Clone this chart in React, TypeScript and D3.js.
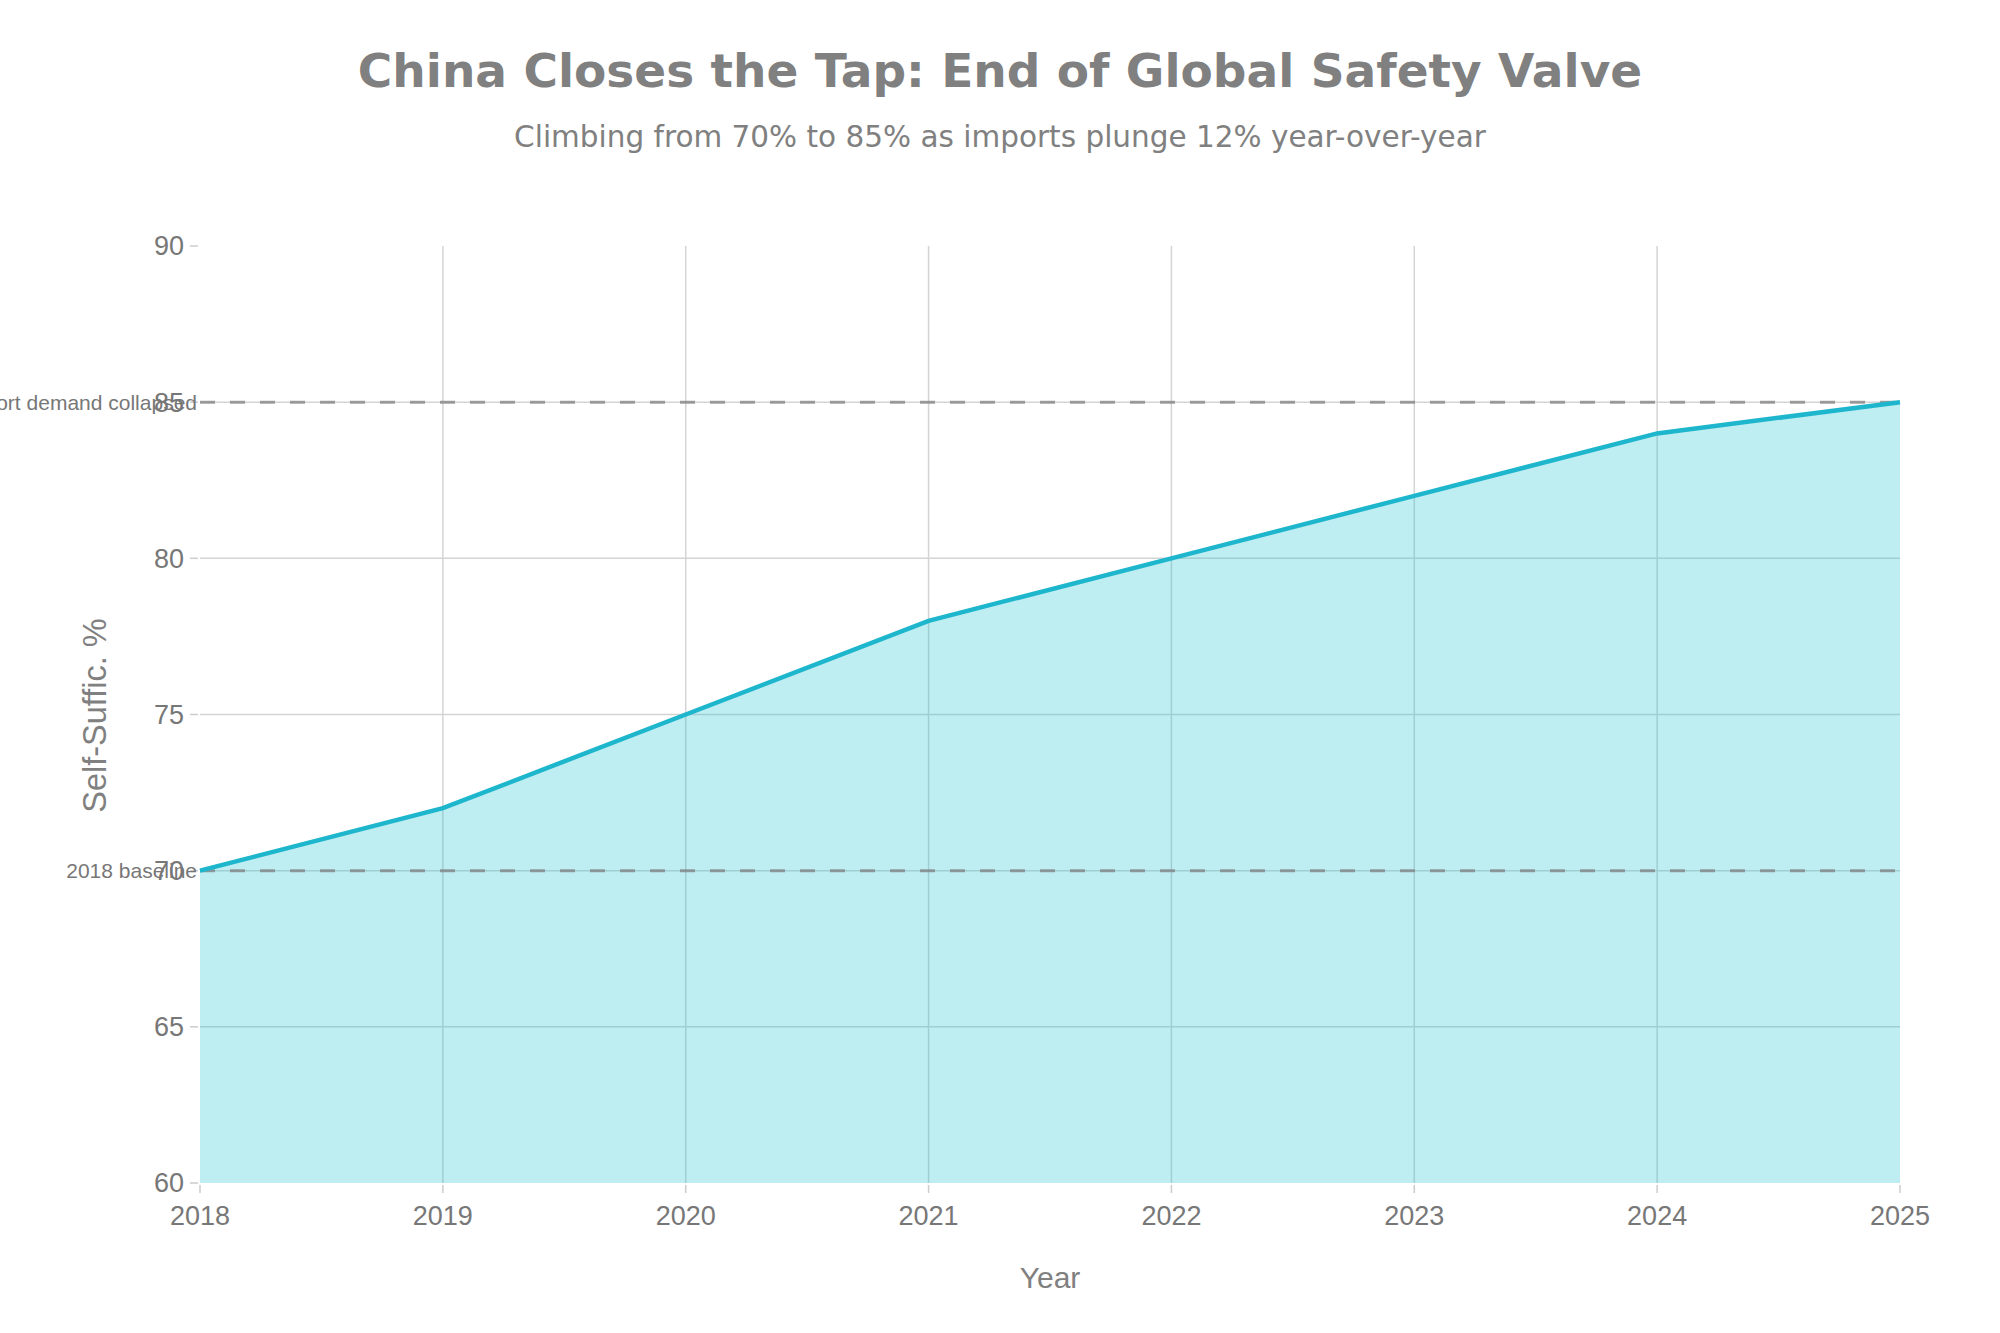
import React from "react";
import * as d3 from "d3";

const years = [2018, 2019, 2020, 2021, 2022, 2023, 2024, 2025];
const selfSufficiency = [70, 72, 75, 78, 80, 82, 84, 85];
const yTicks = [60, 65, 70, 75, 80, 85, 90];
const refLines = [
  { value: 85, label: "Import demand collapsed" },
  { value: 70, label: "2018 baseline" },
];
const title = "China Closes the Tap: End of Global Safety Valve";
const subtitle = "Climbing from 70% to 85% as imports plunge 12% year-over-year";
const xTitle = "Year";
const yTitle = "Self-Suffic. %";

const W = 2000;
const H = 1333;
const M = { left: 200, right: 100, top: 246, bottom: 150 };

export default function App() {
  const x = d3.scaleLinear().domain([2018, 2025]).range([M.left, W - M.right]);
  const y = d3.scaleLinear().domain([60, 90]).range([H - M.bottom, M.top]);
  const data = years.map((yr, i) => ({ yr, v: selfSufficiency[i] }));
  const line = d3.line<{ yr: number; v: number }>().x((d) => x(d.yr)).y((d) => y(d.v));
  const area = d3
    .area<{ yr: number; v: number }>()
    .x((d) => x(d.yr))
    .y0(y(60))
    .y1((d) => y(d.v));
  const tickFont = "'Liberation Sans', Arial, sans-serif";
  const grey = "#777";
  const innerY = yTicks.slice(1, -1);
  const innerX = years.slice(1, -1);

  return (
    <svg
      width={W}
      height={H}
      style={{ position: "absolute", left: 0, top: 0, background: "#fff" }}
    >
      <text
        x={W / 2}
        y={87}
        textAnchor="middle"
        fontFamily="'DejaVu Sans', sans-serif"
        fontWeight="bold"
        fontSize={47}
        fill="#808080"
      >
        {title}
      </text>
      <text
        x={W / 2}
        y={147}
        textAnchor="middle"
        fontFamily="'DejaVu Sans', sans-serif"
        fontSize={29.5}
        fill="#808080"
      >
        {subtitle}
      </text>

      {/* grid */}
      {innerY.map((t) => (
        <line
          key={"gy" + t}
          x1={M.left}
          x2={W - M.right}
          y1={y(t)}
          y2={y(t)}
          stroke="#d4d4d4"
          strokeWidth={1.5}
        />
      ))}
      {innerX.map((t) => (
        <line
          key={"gx" + t}
          x1={x(t)}
          x2={x(t)}
          y1={y(60)}
          y2={y(90)}
          stroke="#d4d4d4"
          strokeWidth={1.5}
        />
      ))}

      <path d={area(data) || ""} fill="#17becf" fillOpacity={0.28} />

      {/* reference lines */}
      {refLines.map((r) => (
        <line
          key={r.label}
          x1={M.left}
          x2={W - M.right}
          y1={y(r.value)}
          y2={y(r.value)}
          stroke="#7a7a7a"
          strokeOpacity={0.7}
          strokeWidth={3}
          strokeDasharray="15,15"
        />
      ))}

      <path d={line(data) || ""} fill="none" stroke="#1db6cc" strokeWidth={4.5} />

      {/* y axis */}
      {yTicks.map((t) => (
        <g key={"yt" + t}>
          <line x1={M.left - 10} x2={M.left - 2} y1={y(t)} y2={y(t)} stroke="#ccc" strokeWidth={1.5} />
          <text
            x={M.left - 16}
            y={y(t)}
            dy="0.35em"
            textAnchor="end"
            fontFamily={tickFont}
            fontSize={27}
            fill={grey}
          >
            {t}
          </text>
        </g>
      ))}
      {/* x axis */}
      {years.map((t) => (
        <g key={"xt" + t}>
          <line x1={x(t)} x2={x(t)} y1={y(60) + 2} y2={y(60) + 10} stroke="#ccc" strokeWidth={1.5} />
          <text
            x={x(t)}
            y={y(60) + 42}
            textAnchor="middle"
            fontFamily={tickFont}
            fontSize={27}
            fill={grey}
          >
            {t}
          </text>
        </g>
      ))}

      {refLines.map((r) => (
        <text
          key={"rl" + r.label}
          x={M.left - 3}
          y={y(r.value)}
          dy="0.35em"
          textAnchor="end"
          fontFamily={tickFont}
          fontSize={21}
          fill={grey}
        >
          {r.label}
        </text>
      ))}

      <text
        x={(M.left + W - M.right) / 2}
        y={1288}
        textAnchor="middle"
        fontFamily={tickFont}
        fontSize={30}
        fill="#808080"
      >
        {xTitle}
      </text>
      <text
        transform={`translate(106, ${(y(60) + y(90)) / 2 + 1}) rotate(-90)`}
        textAnchor="middle"
        fontFamily={tickFont}
        fontSize={32.5}
        fill="#808080"
      >
        {yTitle}
      </text>
    </svg>
  );
}
